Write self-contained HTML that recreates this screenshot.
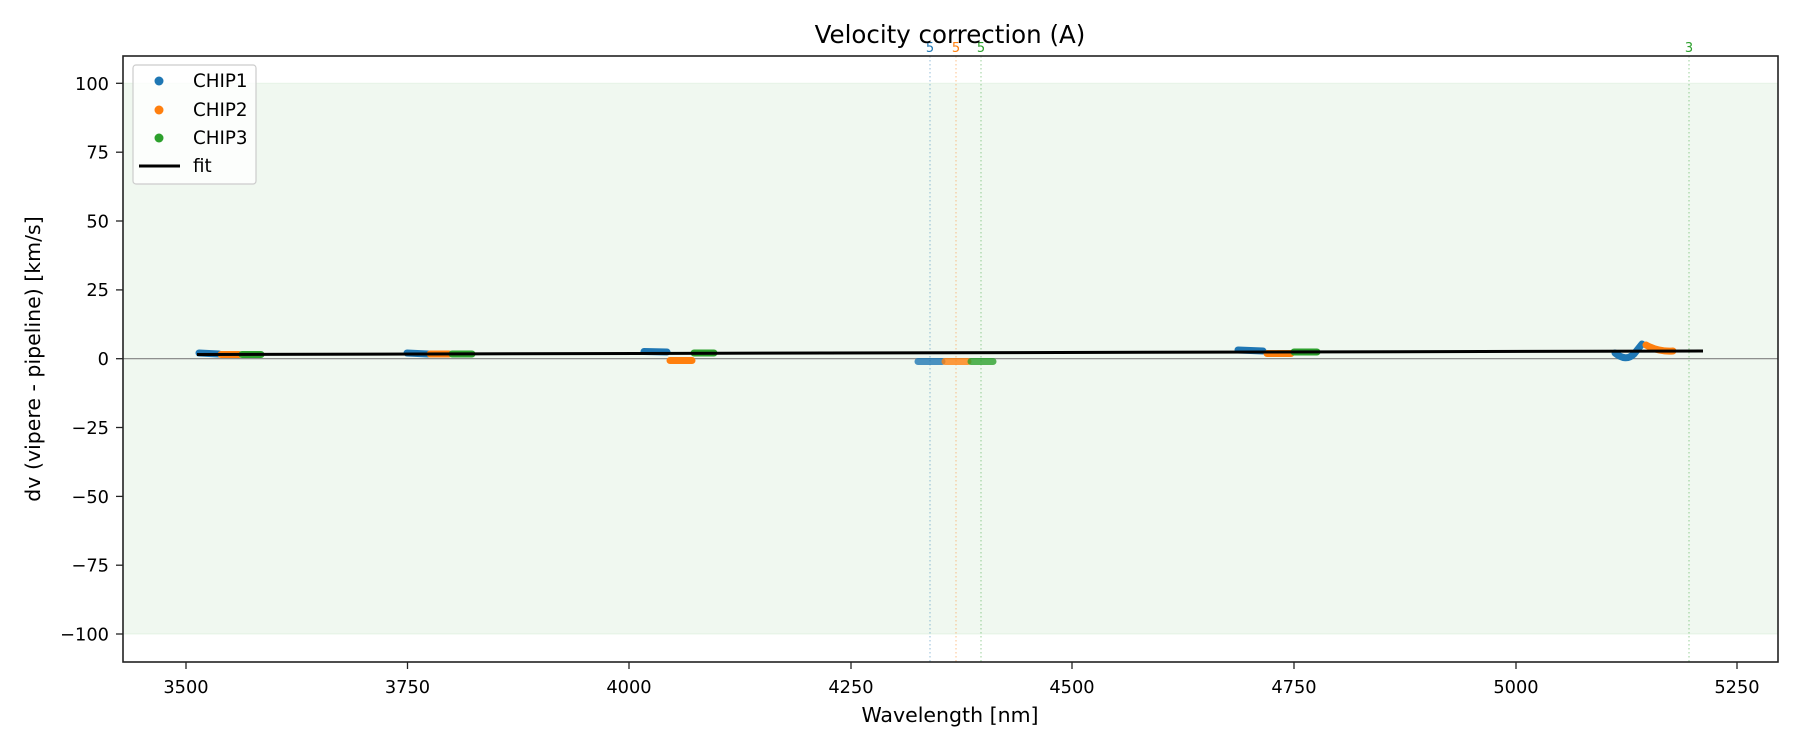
<!DOCTYPE html>
<html><head><meta charset="utf-8"><style>body{margin:0;background:#fff}svg{display:block}text{font-family:"DejaVu Sans","Liberation Sans",sans-serif;fill:#000}</style></head>
<body>
<svg width="1800" height="750" viewBox="0 0 1800 750" xmlns="http://www.w3.org/2000/svg">
<rect x="123" y="83.3" width="1655" height="550.8" fill="#2ca02c" fill-opacity="0.07"/>
<line x1="123" y1="83.3" x2="1778" y2="83.3" stroke="#2ca02c" stroke-opacity="0.08"/>
<line x1="123" y1="634" x2="1778" y2="634" stroke="#2ca02c" stroke-opacity="0.08"/>
<line x1="123" y1="358.7" x2="1778" y2="358.7" stroke="#808080" stroke-width="1.2"/>
<g stroke-dasharray="1.5,2.5" stroke-width="1.2" opacity="0.4">
<line x1="930" y1="56" x2="930" y2="662" stroke="#1f77b4"/>
<line x1="956" y1="56" x2="956" y2="662" stroke="#ff7f0e"/>
<line x1="981" y1="56" x2="981" y2="662" stroke="#2ca02c"/>
<line x1="1689" y1="56" x2="1689" y2="662" stroke="#2ca02c"/>
</g>
<g font-size="13" text-anchor="middle">
<text x="930" y="52" style="fill:#1f77b4">5</text>
<text x="956" y="52" style="fill:#ff7f0e">5</text>
<text x="981" y="52" style="fill:#2ca02c">5</text>
<text x="1689" y="52" style="fill:#2ca02c">3</text>
</g>
<g stroke-width="7" stroke-linecap="round" fill="none">
<path d="M199 353 L219 354" stroke="#1f77b4"/><path d="M221 354.5 L239 354.5" stroke="#ff7f0e"/><path d="M242 354.5 L261 354.5" stroke="#2ca02c"/>
<path d="M407 353 L428 354" stroke="#1f77b4"/><path d="M430 354 L449 354" stroke="#ff7f0e"/><path d="M452 354 L472 354" stroke="#2ca02c"/>
<path d="M644 351.5 L667 352" stroke="#1f77b4"/><path d="M670 360.5 L692 360.5" stroke="#ff7f0e"/><path d="M694 353 L714 353" stroke="#2ca02c"/>
<path d="M918 361.5 L942 361.5" stroke="#1f77b4" opacity="0.8"/><path d="M945 361.5 L968 361.5" stroke="#ff7f0e" opacity="0.8"/><path d="M971 361.5 L993 361.5" stroke="#2ca02c" opacity="0.8"/>
<path d="M1238 350 L1263 351" stroke="#1f77b4"/><path d="M1267 353.5 L1291 353.5" stroke="#ff7f0e"/><path d="M1294 352 L1317 352" stroke="#2ca02c"/>
<path d="M1615 353 Q1626 362 1634 354 L1642 344" stroke="#1f77b4"/><path d="M1646 345 Q1658 352 1673 351" stroke="#ff7f0e"/>
</g>
<line x1="197" y1="354.5" x2="1703" y2="351" stroke="#000" stroke-width="3"/>
<rect x="123" y="56" width="1655" height="606" fill="none" stroke="#222" stroke-width="1.6"/>
<g stroke="#222" stroke-width="1.3">
<line x1="186" y1="662" x2="186" y2="669"/><line x1="407.5" y1="662" x2="407.5" y2="669"/><line x1="629" y1="662" x2="629" y2="669"/><line x1="851" y1="662" x2="851" y2="669"/><line x1="1072" y1="662" x2="1072" y2="669"/><line x1="1294" y1="662" x2="1294" y2="669"/><line x1="1516" y1="662" x2="1516" y2="669"/><line x1="1737" y1="662" x2="1737" y2="669"/>
<line x1="116" y1="83.3" x2="123" y2="83.3"/><line x1="116" y1="152.2" x2="123" y2="152.2"/><line x1="116" y1="221" x2="123" y2="221"/><line x1="116" y1="289.9" x2="123" y2="289.9"/><line x1="116" y1="358.7" x2="123" y2="358.7"/><line x1="116" y1="427.5" x2="123" y2="427.5"/><line x1="116" y1="496.4" x2="123" y2="496.4"/><line x1="116" y1="565.2" x2="123" y2="565.2"/><line x1="116" y1="634" x2="123" y2="634"/>
</g>
<g font-size="17.8" text-anchor="middle">
<text x="186" y="693">3500</text><text x="407.5" y="693">3750</text><text x="629" y="693">4000</text><text x="851" y="693">4250</text><text x="1072" y="693">4500</text><text x="1294" y="693">4750</text><text x="1516" y="693">5000</text><text x="1737" y="693">5250</text>
</g>
<g font-size="17.8" text-anchor="end">
<text x="109" y="90">100</text><text x="109" y="158.5">75</text><text x="109" y="227.5">50</text><text x="109" y="296">25</text><text x="109" y="365">0</text><text x="109" y="434">−25</text><text x="109" y="503">−50</text><text x="109" y="571.5">−75</text><text x="109" y="640.5">−100</text>
</g>
<text x="950" y="722" font-size="20.5" text-anchor="middle">Wavelength [nm]</text>
<text transform="translate(40,359) rotate(-90)" font-size="20.5" text-anchor="middle">dv (vipere - pipeline) [km/s]</text>
<text x="950" y="43" font-size="24.5" text-anchor="middle">Velocity correction (A)</text>
<rect x="133" y="65" width="123" height="119" rx="3" fill="#fff" fill-opacity="0.8" stroke="#ccc" stroke-width="1.2"/>
<circle cx="159" cy="81" r="4.5" fill="#1f77b4"/><circle cx="159" cy="110" r="4.5" fill="#ff7f0e"/><circle cx="159" cy="138" r="4.5" fill="#2ca02c"/>
<line x1="139" y1="166" x2="180" y2="166" stroke="#000" stroke-width="3"/>
<g font-size="18.3"><text x="193" y="87">CHIP1</text><text x="193" y="116">CHIP2</text><text x="193" y="144">CHIP3</text><text x="193" y="172">fit</text></g>
</svg>
</body></html>
